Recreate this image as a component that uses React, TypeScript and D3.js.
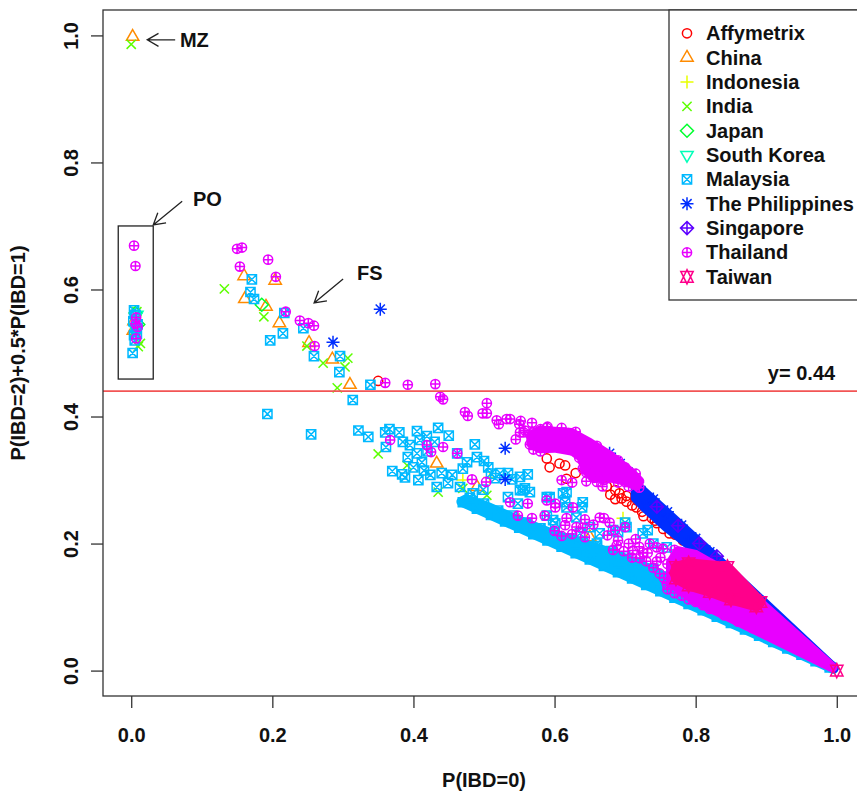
import React, { useEffect, useRef } from "react";
import * as d3 from "d3";

type Pt = [number, number];

const groupNames = [
  "Affymetrix", "China", "Indonesia", "India", "Japan", "South Korea",
  "Malaysia", "The Philippines", "Singapore", "Thailand", "Taiwan",
];
// rainbow(11) from R
const groupColors = [
  "#FF0000", "#FF8B00", "#E8FF00", "#5DFF00", "#00FF2E", "#00FFB9",
  "#00B9FF", "#002EFF", "#5D00FF", "#E800FF", "#FF008B",
];
const groupPch = [1, 2, 3, 4, 5, 6, 7, 8, 9, 10, 11];

const xTicks = [0, 0.2, 0.4, 0.6, 0.8, 1.0];
const yTicks = [0, 0.2, 0.4, 0.6, 0.8, 1.0];
const cutoff = 0.44;

const affymetrix: Pt[] = [
  [0.35, 0.456], [0.589, 0.334], [0.593, 0.32], [0.607, 0.326], [0.615, 0.323], [0.617, 0.302],
  [0.63, 0.311], [0.674, 0.29], [0.679, 0.277], [0.686, 0.284], [0.686, 0.27], [0.692, 0.279],
  [0.695, 0.271], [0.702, 0.266], [0.702, 0.275], [0.71, 0.26], [0.716, 0.257], [0.717, 0.268],
  [0.724, 0.25], [0.726, 0.243], [0.732, 0.257], [0.738, 0.24], [0.742, 0.236], [0.745, 0.232],
  [0.754, 0.223], [0.761, 0.231], [0.763, 0.216], [0.771, 0.214], [0.782, 0.205],
];

const china: Pt[] = [
  [0.002, 0.998], [0.003, 0.535], [0.004, 0.55], [0.16, 0.621], [0.204, 0.614], [0.161, 0.585],
  [0.191, 0.573], [0.21, 0.547], [0.252, 0.516], [0.285, 0.49], [0.31, 0.45], [0.433, 0.326],
  [0.49, 0.289], [0.65, 0.21],
];

const indonesia: Pt[] = [[0.508, 0.304], [0.697, 0.24], [0.47, 0.3]];

const india: Pt[] = [
  [0.0, 0.986], [0.008, 0.565], [0.01, 0.51], [0.013, 0.515], [0.006, 0.535], [0.132, 0.601],
  [0.188, 0.557], [0.249, 0.511], [0.272, 0.484], [0.307, 0.492], [0.303, 0.478], [0.292, 0.445],
  [0.35, 0.341], [0.391, 0.323], [0.435, 0.281], [0.47, 0.287], [0.504, 0.276], [0.544, 0.24],
];

const japan: Pt[] = [[0.006, 0.563], [0.01, 0.545], [0.185, 0.576]];

const southKorea: Pt[] = [[0.008, 0.56], [0.005, 0.54]];

const malaysiaRelatives: Pt[] = [
  [0.002, 0.5], [0.004, 0.567], [0.006, 0.56], [0.003, 0.55], [0.008, 0.53], [0.005, 0.52],
  [0.009, 0.545], [0.007, 0.538], [0.004, 0.528], [0.171, 0.616], [0.169, 0.596], [0.174, 0.585],
  [0.217, 0.563], [0.197, 0.52], [0.215, 0.531], [0.244, 0.539], [0.259, 0.495], [0.296, 0.495],
  [0.295, 0.47], [0.339, 0.45], [0.314, 0.426], [0.193, 0.404], [0.255, 0.372],
];

const malaysiaScatter: Pt[] = [
  [0.322, 0.378], [0.336, 0.368], [0.36, 0.375], [0.366, 0.38], [0.38, 0.375], [0.405, 0.377],
  [0.435, 0.382], [0.361, 0.352], [0.385, 0.36], [0.395, 0.355], [0.409, 0.363], [0.419, 0.369],
  [0.392, 0.336], [0.405, 0.342], [0.412, 0.328], [0.37, 0.314], [0.384, 0.309], [0.388, 0.304],
  [0.407, 0.3], [0.424, 0.308], [0.44, 0.311], [0.455, 0.308], [0.462, 0.342], [0.487, 0.356],
  [0.49, 0.336], [0.476, 0.328], [0.506, 0.32], [0.449, 0.295], [0.433, 0.289], [0.466, 0.289],
  [0.523, 0.311], [0.54, 0.301], [0.562, 0.309], [0.484, 0.279], [0.499, 0.285], [0.534, 0.273],
  [0.551, 0.284], [0.565, 0.281], [0.548, 0.263], [0.589, 0.273], [0.617, 0.281], [0.64, 0.265],
  [0.589, 0.244], [0.601, 0.232], [0.516, 0.303], [0.555, 0.284], [0.593, 0.273], [0.615, 0.265],
  [0.534, 0.311], [0.551, 0.305], [0.558, 0.287], [0.612, 0.279], [0.617, 0.257], [0.598, 0.237],
  [0.631, 0.241], [0.636, 0.216], [0.65, 0.226], [0.664, 0.216], [0.683, 0.221], [0.702, 0.226],
  [0.725, 0.216], [0.74, 0.2], [0.759, 0.194], [0.639, 0.257], [0.7, 0.233], [0.732, 0.221],
  [0.626, 0.205], [0.66, 0.2], [0.69, 0.218], [0.42, 0.345], [0.43, 0.36], [0.45, 0.37],
  [0.4, 0.32], [0.415, 0.315], [0.47, 0.318], [0.5, 0.33], [0.51, 0.31],
];

// edge points of the dense band of unrelated pairs along P(IBD=2)=0
const malaysiaBand: Pt[] = [
  [0.47, 0.265], [0.49, 0.255], [0.51, 0.245], [0.53, 0.235], [0.55, 0.225], [0.57, 0.215],
  [0.59, 0.205], [0.61, 0.195], [0.63, 0.185], [0.65, 0.175], [0.67, 0.165], [0.69, 0.155],
  [0.71, 0.145], [0.73, 0.135], [0.75, 0.125], [0.77, 0.115], [0.79, 0.105], [0.81, 0.095],
  [0.83, 0.085], [0.85, 0.075], [0.87, 0.065], [0.89, 0.055], [0.91, 0.045], [0.93, 0.035],
  [0.95, 0.025], [0.97, 0.015], [0.99, 0.005],
  [0.48, 0.272], [0.5, 0.263], [0.52, 0.252], [0.54, 0.244], [0.56, 0.233], [0.58, 0.224],
  [0.6, 0.216], [0.62, 0.208], [0.64, 0.203], [0.66, 0.196], [0.68, 0.188], [0.7, 0.18],
  [0.72, 0.17], [0.74, 0.16], [0.76, 0.148],
];
// outline of the solid part of that band (point centres)
const malaysiaCore: Pt[] = [
  [0.468, 0.266], [0.995, 0.0025], [0.995, 0.006], [0.9, 0.058], [0.8, 0.118], [0.76, 0.145],
  [0.72, 0.168], [0.68, 0.185], [0.64, 0.2], [0.6, 0.214], [0.55, 0.236], [0.5, 0.26], [0.475, 0.27],
];

const philippines: Pt[] = [
  [0.286, 0.517], [0.353, 0.569], [0.53, 0.35], [0.53, 0.301], [0.678, 0.342], [0.693, 0.326],
  [0.71, 0.31], [0.72, 0.29], [0.74, 0.27], [0.76, 0.25], [0.78, 0.229], [0.8, 0.208],
  [0.82, 0.187], [0.73, 0.258], [0.75, 0.24], [0.77, 0.222], [0.79, 0.202], [0.81, 0.184],
];
const philippinesCore: Pt[] = [
  [0.715, 0.293], [0.83, 0.176], [0.996, 0.004], [0.83, 0.168], [0.8, 0.19], [0.76, 0.225],
  [0.73, 0.255], [0.715, 0.272],
];

const singapore: Pt[] = [[0.745, 0.258], [0.775, 0.228], [0.805, 0.2], [0.83, 0.18]];

const thailandRelatives: Pt[] = [
  [0.004, 0.669], [0.006, 0.637], [0.007, 0.556], [0.006, 0.546], [0.009, 0.541], [0.007, 0.523],
  [0.15, 0.664], [0.157, 0.666], [0.154, 0.636], [0.194, 0.647], [0.205, 0.62], [0.219, 0.565],
  [0.239, 0.551], [0.251, 0.547], [0.259, 0.543], [0.26, 0.511],
  [0.36, 0.453], [0.392, 0.45], [0.431, 0.451], [0.438, 0.431], [0.442, 0.427], [0.473, 0.407],
  [0.477, 0.401], [0.504, 0.421], [0.498, 0.405], [0.504, 0.405], [0.518, 0.394], [0.521, 0.388],
  [0.532, 0.396], [0.537, 0.396], [0.552, 0.393], [0.568, 0.39], [0.551, 0.375], [0.545, 0.364],
  [0.556, 0.375], [0.589, 0.382],
  [0.367, 0.363], [0.419, 0.355], [0.425, 0.344], [0.442, 0.352], [0.462, 0.342], [0.483, 0.301],
  [0.503, 0.297],
];

const thailandLower: Pt[] = [
  [0.537, 0.265], [0.548, 0.244], [0.562, 0.263], [0.568, 0.24], [0.589, 0.268], [0.586, 0.244],
  [0.601, 0.257], [0.601, 0.263], [0.615, 0.229], [0.617, 0.24], [0.626, 0.257], [0.631, 0.226],
  [0.643, 0.238], [0.643, 0.21], [0.66, 0.297], [0.664, 0.241], [0.678, 0.233], [0.686, 0.221],
  [0.7, 0.226], [0.688, 0.197], [0.683, 0.19], [0.711, 0.189], [0.721, 0.177], [0.732, 0.185],
  [0.745, 0.194], [0.754, 0.192], [0.74, 0.162], [0.749, 0.153], [0.759, 0.137], [0.778, 0.137],
  [0.787, 0.121], [0.802, 0.11], [0.81, 0.103], [0.61, 0.3], [0.625, 0.296], [0.645, 0.298],
  [0.668, 0.29], [0.69, 0.296], [0.705, 0.29],
  [0.6, 0.22], [0.61, 0.212], [0.625, 0.215], [0.64, 0.225], [0.655, 0.23], [0.67, 0.24],
  [0.675, 0.213], [0.69, 0.205], [0.705, 0.2], [0.715, 0.207], [0.72, 0.195], [0.73, 0.172],
  [0.735, 0.2], [0.75, 0.178], [0.76, 0.168], [0.765, 0.152], [0.755, 0.146], [0.745, 0.172],
  [0.725, 0.186], [0.71, 0.178], [0.698, 0.188],
];

const thailandArc: Pt[] = [
  [0.55, 0.388], [0.558, 0.378], [0.57, 0.375], [0.58, 0.38], [0.6, 0.372], [0.62, 0.374],
  [0.64, 0.362], [0.66, 0.35], [0.68, 0.336], [0.7, 0.32], [0.575, 0.36], [0.595, 0.362],
  [0.57, 0.348], [0.58, 0.345], [0.64, 0.33], [0.65, 0.322], [0.66, 0.318], [0.635, 0.335],
  [0.645, 0.312], [0.655, 0.305], [0.665, 0.31], [0.67, 0.3],
  [0.565, 0.372], [0.59, 0.384], [0.61, 0.382], [0.63, 0.376], [0.66, 0.354], [0.69, 0.331],
  [0.715, 0.31], [0.72, 0.288], [0.7, 0.297], [0.675, 0.303], [0.64, 0.318], [0.625, 0.347],
  [0.6, 0.353], [0.565, 0.356],
];
const thailandArcCore: Pt[] = [
  [0.567, 0.37], [0.58, 0.378], [0.6, 0.376], [0.624, 0.374], [0.65, 0.358], [0.68, 0.337],
  [0.708, 0.312], [0.72, 0.298], [0.716, 0.291], [0.7, 0.299], [0.67, 0.306], [0.656, 0.303],
  [0.643, 0.317], [0.64, 0.335], [0.626, 0.346], [0.6, 0.351], [0.58, 0.35], [0.567, 0.357],
];

const thailandWedge: Pt[] = [
  [0.76, 0.128], [0.77, 0.122], [0.77, 0.19], [0.78, 0.118], [0.79, 0.112], [0.8, 0.108],
  [0.82, 0.097], [0.84, 0.087], [0.86, 0.077], [0.88, 0.067], [0.9, 0.057], [0.92, 0.047],
  [0.94, 0.037], [0.96, 0.027], [0.98, 0.013],
];
const thailandWedgeCore: Pt[] = [
  [0.765, 0.138], [0.8, 0.11], [0.9, 0.056], [0.994, 0.005], [0.9, 0.098], [0.85, 0.148],
  [0.83, 0.163], [0.8, 0.182], [0.775, 0.188], [0.765, 0.17],
];

const taiwan: Pt[] = [
  [0.772, 0.163], [0.79, 0.169], [0.845, 0.163], [0.892, 0.108], [0.886, 0.101], [0.85, 0.112],
  [0.82, 0.124], [0.79, 0.134], [0.772, 0.145], [1.0, 0.0],
];
const taiwanCore: Pt[] = [
  [0.772, 0.163], [0.79, 0.169], [0.845, 0.163], [0.892, 0.108], [0.886, 0.101], [0.85, 0.112],
  [0.82, 0.124], [0.79, 0.134], [0.772, 0.145],
];

const seriesData: Pt[][] = [
  affymetrix, china, indonesia, india, japan, southKorea,
  [...malaysiaRelatives, ...malaysiaScatter, ...malaysiaBand],
  philippines, singapore,
  [...thailandRelatives, ...thailandLower, ...thailandArc, ...thailandWedge],
  taiwan,
];
// solid clouds where thousands of pairs overlap, by group index
const seriesCores: Pt[][][] = [
  [], [], [], [], [], [],
  [malaysiaCore],
  [philippinesCore],
  [],
  [thailandArcCore, thailandWedgeCore],
  [taiwanCore],
];

// annotations (data coordinates)
const labels = [
  { text: "MZ", x: 0.069, y: 0.993, from: [0.0623, 0.993], to: [0.0227, 0.993] },
  { text: "PO", x: 0.0875, y: 0.742, from: [0.0722, 0.739], to: [0.0312, 0.7015] },
  { text: "FS", x: 0.32, y: 0.626, from: [0.3003, 0.6165], to: [0.2592, 0.5787] },
];
const poBox = { x0: -0.0184, x1: 0.0312, y0: 0.459, y1: 0.7 };

const FONT = "'Liberation Sans', Arial, Helvetica, sans-serif";
const LWD = 1.5;

function pchPath(pch: number): string {
  const b = 4.6;
  const p = Math.SQRT2 * b;
  const r = 1.5551 * b;
  const yc = 0.7776 * b;
  const xc = 1.3468 * b;
  const circ = (c: number) => `M${c},0A${c},${c} 0 1,1 ${-c},0A${c},${c} 0 1,1 ${c},0Z`;
  switch (pch) {
    case 1: return circ(b);
    case 2: return `M0,${-r}L${xc},${yc}L${-xc},${yc}Z`;
    case 3: return `M${-p},0H${p}M0,${-p}V${p}`;
    case 4: return `M${-b},${-b}L${b},${b}M${-b},${b}L${b},${-b}`;
    case 5: return `M0,${-p}L${p},0L0,${p}L${-p},0Z`;
    case 6: return `M0,${r}L${xc},${-yc}L${-xc},${-yc}Z`;
    case 7: return `M${-b},${-b}H${b}V${b}H${-b}ZM${-b},${-b}L${b},${b}M${-b},${b}L${b},${-b}`;
    case 8: return `M${-b},${-b}L${b},${b}M${-b},${b}L${b},${-b}M${-p},0H${p}M0,${-p}V${p}`;
    case 9: return `M0,${-p}L${p},0L0,${p}L${-p},0ZM${-p},0H${p}M0,${-p}V${p}`;
    case 10: return `${circ(b)}M${-b},0H${b}M0,${-b}V${b}`;
    case 11: {
      const y2 = 0.5 * (yc + r);
      return `M0,${r}L${xc},${-y2}L${-xc},${-y2}ZM0,${-r}L${xc},${y2}L${-xc},${y2}Z`;
    }
    default: return circ(b);
  }
}

const W = 857;
const H = 793;

const IbdPlot = () => {
  const svgRef = useRef<SVGSVGElement>(null);

  useEffect(() => {
    const root = d3.select(svgRef.current);
    root.selectAll("*").remove();

    const x = d3.scaleLinear().domain([-0.04, 1.04]).range([103, 865]);
    const y = d3.scaleLinear().domain([-0.04, 1.04]).range([696, 10]);
    const outline = d3
      .line<Pt>()
      .x((d) => x(d[0]))
      .y((d) => y(d[1]))
      .curve(d3.curveLinearClosed);

    const svg = root.append("g");

    // points, drawn group by group in legend order
    seriesData.forEach((pts, i) => {
      const g = svg.append("g");
      seriesCores[i].forEach((core) => {
        g.append("path")
          .attr("d", outline(core))
          .attr("fill", groupColors[i])
          .attr("stroke", groupColors[i])
          .attr("stroke-width", 10)
          .attr("stroke-linejoin", "round");
      });
      g.selectAll("path.pt")
        .data(pts)
        .join("path")
        .attr("class", "pt")
        .attr("transform", (d) => `translate(${x(d[0])},${y(d[1])})`)
        .attr("d", pchPath(groupPch[i]))
        .attr("fill", "none")
        .attr("stroke", groupColors[i])
        .attr("stroke-width", LWD);
    });

    // cutoff line
    svg
      .append("line")
      .attr("x1", x.range()[0])
      .attr("x2", x.range()[1])
      .attr("y1", y(cutoff))
      .attr("y2", y(cutoff))
      .attr("stroke", "#f25555")
      .attr("stroke-width", 1.6);
    svg
      .append("text")
      .attr("x", x(0.9023))
      .attr("y", y(0.4685) + 7)
      .attr("font-family", FONT)
      .attr("font-weight", "bold")
      .attr("font-size", 20)
      .attr("fill", "#111")
      .text(`y= ${cutoff}`);

    // plot box
    svg
      .append("rect")
      .attr("x", 103)
      .attr("y", 10)
      .attr("width", 762)
      .attr("height", 686)
      .attr("fill", "none")
      .attr("stroke", "#333")
      .attr("stroke-width", 1.3);

    // axes
    const xAxis = svg
      .append("g")
      .attr("transform", `translate(0,696)`)
      .call(d3.axisBottom(x).tickValues(xTicks).tickSize(12).tickFormat(d3.format(".1f")));
    xAxis.select(".domain").remove();
    xAxis.selectAll("line").attr("stroke", "#333").attr("stroke-width", 1.3);
    xAxis
      .selectAll("text")
      .attr("y", 46)
      .attr("dy", 0)
      .attr("font-family", FONT)
      .attr("font-weight", "bold")
      .attr("font-size", 20)
      .attr("fill", "#111");

    const yAxis = svg
      .append("g")
      .attr("transform", `translate(103,0)`)
      .call(d3.axisLeft(y).tickValues(yTicks).tickSize(12).tickFormat(d3.format(".1f")));
    yAxis.select(".domain").remove();
    yAxis.selectAll("line").attr("stroke", "#333").attr("stroke-width", 1.3);
    yAxis
      .selectAll("text")
      .attr("x", 0)
      .attr("y", -25)
      .attr("dy", 0)
      .attr("transform", "rotate(-90)")
      .attr("text-anchor", "middle")
      .attr("font-family", FONT)
      .attr("font-weight", "bold")
      .attr("font-size", 20)
      .attr("fill", "#111");

    // axis titles
    svg
      .append("text")
      .attr("x", 484)
      .attr("y", 787)
      .attr("text-anchor", "middle")
      .attr("font-family", FONT)
      .attr("font-weight", "bold")
      .attr("font-size", 20)
      .attr("fill", "#111")
      .text("P(IBD=0)");
    svg
      .append("text")
      .attr("transform", `translate(25,353) rotate(-90)`)
      .attr("text-anchor", "middle")
      .attr("font-family", FONT)
      .attr("font-weight", "bold")
      .attr("font-size", 20)
      .attr("fill", "#111")
      .text("P(IBD=2)+0.5*P(IBD=1)");

    // annotations
    const arrowHead = (x0: number, y0: number, x1: number, y1: number) => {
      const a = Math.atan2(y1 - y0, x1 - x0);
      const len = 13;
      const s = Math.PI / 6;
      return `M${x1 - len * Math.cos(a - s)},${y1 - len * Math.sin(a - s)}L${x1},${y1}L${
        x1 - len * Math.cos(a + s)
      },${y1 - len * Math.sin(a + s)}`;
    };
    labels.forEach((l) => {
      svg
        .append("text")
        .attr("x", x(l.x))
        .attr("y", y(l.y) + 7)
        .attr("font-family", FONT)
        .attr("font-weight", "bold")
        .attr("font-size", 20)
        .attr("fill", "#111")
        .text(l.text);
      const x0 = x(l.from[0]);
      const y0 = y(l.from[1]);
      const x1 = x(l.to[0]);
      const y1 = y(l.to[1]);
      svg
        .append("path")
        .attr("d", `M${x0},${y0}L${x1},${y1}` + arrowHead(x0, y0, x1, y1))
        .attr("fill", "none")
        .attr("stroke", "#222")
        .attr("stroke-width", 1.3);
    });
    svg
      .append("rect")
      .attr("x", x(poBox.x0))
      .attr("y", y(poBox.y1))
      .attr("width", x(poBox.x1) - x(poBox.x0))
      .attr("height", y(poBox.y0) - y(poBox.y1))
      .attr("fill", "none")
      .attr("stroke", "#222")
      .attr("stroke-width", 1.3);

    // legend
    const legend = svg.append("g");
    legend
      .append("rect")
      .attr("x", 669)
      .attr("y", 10)
      .attr("width", 196)
      .attr("height", 290)
      .attr("fill", "white")
      .attr("stroke", "#333")
      .attr("stroke-width", 1.3);
    groupNames.forEach((name, i) => {
      const cy = 33.3 + i * 24.35;
      legend
        .append("path")
        .attr("transform", `translate(687,${cy})`)
        .attr("d", pchPath(groupPch[i]))
        .attr("fill", "none")
        .attr("stroke", groupColors[i])
        .attr("stroke-width", LWD);
      legend
        .append("text")
        .attr("x", 706)
        .attr("y", cy + 7)
        .attr("font-family", FONT)
        .attr("font-weight", "bold")
        .attr("font-size", 20)
        .attr("fill", "#111")
        .text(name);
    });
  }, []);

  return (
    <svg
      ref={svgRef}
      width={W}
      height={H}
      style={{ position: "absolute", left: 0, top: 0, background: "white" }}
    />
  );
};

export default function App() {
  return <IbdPlot />;
}
